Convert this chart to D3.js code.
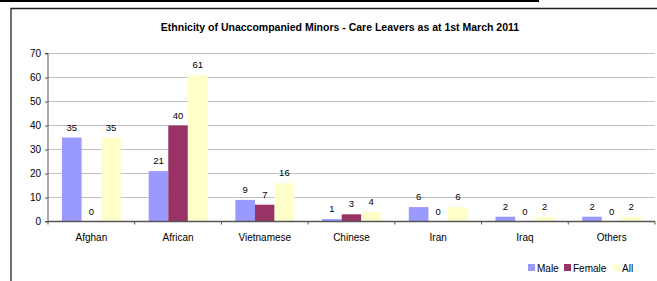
<!DOCTYPE html>
<html>
<head>
<meta charset="utf-8">
<script src="https://cdn.jsdelivr.net/npm/d3@7"></script>
<style>
  body { margin: 0; background: #fff; }
  svg { display: block; font-family: "Liberation Sans", Arial, sans-serif; }
</style>
</head>
<body>
<svg id="chart" width="657" height="281"></svg>
<script>
  // data
  const categories = ["Afghan", "African", "Vietnamese", "Chinese", "Iran", "Iraq", "Others"];
  const seriesNames = ["Male", "Female", "All"];
  const male   = [35, 21, 9, 1, 6, 2, 2];
  const female = [0, 40, 7, 3, 0, 0, 0];
  const all    = [35, 61, 16, 4, 6, 2, 2];
  const yTicks = [0, 10, 20, 30, 40, 50, 60, 70];

  const colors = ["#9999ff", "#993366", "#ffffcc"];
  const series = [male, female, all];

  const svg = d3.select("#chart");
  const margin = {left: 48, right: 2, top: 53.5, bottom: 59.5};
  const width = 657, height = 281;

  // top rule and frame
  svg.append("line").attr("x1", 0).attr("x2", 539).attr("y1", 1).attr("y2", 1)
    .attr("stroke", "#000").attr("stroke-width", 2);
  svg.append("path").attr("d", "M11,281V8.5H657")
    .attr("fill", "none").attr("stroke", "#222").attr("stroke-width", 1.3);

  svg.append("text")
    .attr("x", 340).attr("y", 31)
    .attr("text-anchor", "middle")
    .attr("font-size", 10.5).attr("font-weight", "bold")
    .text("Ethnicity of Unaccompanied Minors - Care Leavers as at 1st March 2011");

  const x = d3.scaleBand().domain(categories)
    .range([margin.left, width - margin.right]).paddingInner(0).paddingOuter(0);
  const y = d3.scaleLinear().domain([0, 70]).range([height - margin.bottom, margin.top]);
  const barW = 19.6;
  const groupOffset = (x.bandwidth() - barW * 3) / 2;

  // gridlines
  svg.append("g").selectAll("line").data(yTicks.slice(1)).join("line")
    .attr("x1", margin.left).attr("x2", width - margin.right)
    .attr("y1", d => y(d)).attr("y2", d => y(d))
    .attr("stroke", "#c0c0c0").attr("stroke-width", 1);

  // bars
  series.forEach((vals, s) => {
    svg.append("g").selectAll("rect").data(vals).join("rect")
      .attr("x", (d, i) => x(categories[i]) + groupOffset + s * barW)
      .attr("y", d => y(d))
      .attr("width", barW)
      .attr("height", d => y(0) - y(d))
      .attr("fill", colors[s]);
    svg.append("g").selectAll("text").data(vals).join("text")
      .attr("x", (d, i) => x(categories[i]) + groupOffset + s * barW + barW / 2)
      .attr("y", d => y(d) - 7)
      .attr("text-anchor", "middle")
      .attr("font-size", 9.5)
      .attr("fill", "#000")
      .text(d => d);
  });

  // y axis
  const yAxis = svg.append("g")
    .attr("transform", `translate(${margin.left},0)`)
    .call(d3.axisLeft(y).tickValues(yTicks).tickSize(3).tickPadding(4));
  yAxis.select(".domain").attr("stroke", "#555").attr("d", `M-3,${y(70)}H0V${y(0)}H-3`);
  yAxis.selectAll("line").attr("stroke", "#555");
  yAxis.selectAll("text").attr("font-size", 10).attr("font-family", "Liberation Sans, Arial, sans-serif").attr("fill", "#000");

  // x axis
  const xAxis = svg.append("g")
    .attr("transform", `translate(0,${y(0)})`);
  xAxis.append("line").attr("x1", margin.left).attr("x2", width - margin.right)
    .attr("stroke", "#555").attr("stroke-width", 1.3);
  xAxis.selectAll(".tk").data(d3.range(categories.length + 1)).join("line")
    .attr("class", "tk")
    .attr("x1", i => margin.left + i * x.step()).attr("x2", i => margin.left + i * x.step())
    .attr("y1", 0).attr("y2", 3).attr("stroke", "#555");
  xAxis.selectAll("text").data(categories).join("text")
    .attr("x", d => x(d) + x.bandwidth() / 2)
    .attr("y", 19.5)
    .attr("text-anchor", "middle")
    .attr("font-size", 10)
    .text(d => d);

  // legend
  const legendX = [528, 564, 613];
  const legend = svg.append("g").selectAll("g").data(seriesNames).join("g")
    .attr("transform", (d, i) => `translate(${legendX[i]},264)`);
  legend.append("rect").attr("width", 7).attr("height", 7).attr("fill", (d, i) => colors[i]);
  legend.append("text").attr("x", 9).attr("y", 7.5).attr("font-size", 10).text(d => d);
</script>
</body>
</html>
